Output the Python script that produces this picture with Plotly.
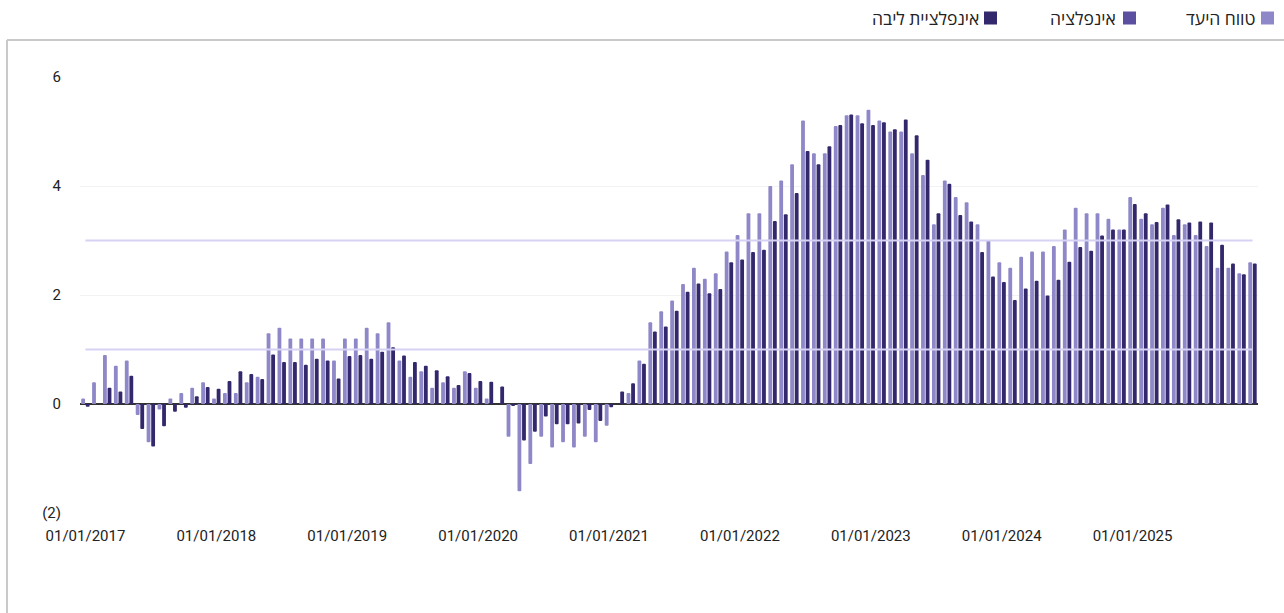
import pandas as pd
import plotly.graph_objects as go

# ---------------- data ----------------
months = pd.date_range("2017-01-01", "2025-12-01", freq="MS").strftime("%d/%m/%Y").tolist()

inflation = [
    0.1, 0.4, 0.9, 0.7, 0.8, -0.2, -0.7, -0.1, 0.1, 0.2, 0.3, 0.4,      # 2017
    0.1, 0.2, 0.2, 0.4, 0.5, 1.3, 1.4, 1.2, 1.2, 1.2, 1.2, 0.8,         # 2018
    1.2, 1.2, 1.4, 1.3, 1.5, 0.8, 0.5, 0.6, 0.3, 0.4, 0.3, 0.6,         # 2019
    0.3, 0.1, 0.0, -0.6, -1.6, -1.1, -0.6, -0.8, -0.7, -0.8, -0.6, -0.7,  # 2020
    -0.4, 0.0, 0.2, 0.8, 1.5, 1.7, 1.9, 2.2, 2.5, 2.3, 2.4, 2.8,        # 2021
    3.1, 3.5, 3.5, 4.0, 4.1, 4.4, 5.2, 4.6, 4.6, 5.1, 5.3, 5.3,         # 2022
    5.4, 5.2, 5.0, 5.0, 4.6, 4.2, 3.3, 4.1, 3.8, 3.7, 3.3, 3.0,         # 2023
    2.6, 2.5, 2.7, 2.8, 2.8, 2.9, 3.2, 3.6, 3.5, 3.5, 3.4, 3.2,         # 2024
    3.8, 3.4, 3.3, 3.6, 3.1, 3.3, 3.1, 2.9, 2.5, 2.5, 2.4, 2.6,         # 2025
]

core_inflation = [
    -0.05, 0.0, 0.3, 0.23, 0.52, -0.46, -0.78, -0.41, -0.14, -0.07, 0.14, 0.31,   # 2017
    0.28, 0.42, 0.6, 0.55, 0.46, 0.91, 0.77, 0.77, 0.72, 0.83, 0.8, 0.47,         # 2018
    0.88, 0.9, 0.83, 0.96, 1.04, 0.89, 0.77, 0.7, 0.62, 0.51, 0.35, 0.57,         # 2019
    0.42, 0.41, 0.32, -0.02, -0.67, -0.51, -0.23, -0.37, -0.37, -0.36, -0.11, -0.31,  # 2020
    -0.06, 0.23, 0.38, 0.74, 1.33, 1.42, 1.71, 2.06, 2.21, 2.03, 2.11, 2.6,       # 2021
    2.65, 2.79, 2.83, 3.36, 3.48, 3.87, 4.64, 4.4, 4.73, 5.12, 5.31, 5.15,        # 2022
    5.12, 5.17, 5.04, 5.22, 4.93, 4.48, 3.5, 4.04, 3.47, 3.35, 2.79, 2.34,        # 2023
    2.24, 1.91, 2.12, 2.26, 1.99, 2.28, 2.61, 2.88, 2.81, 3.09, 3.2, 3.2,         # 2024
    3.67, 3.5, 3.34, 3.66, 3.39, 3.33, 3.35, 3.33, 2.92, 2.58, 2.38, 2.58,        # 2025
]

target_low = 1
target_high = 3

y_tick_values = [-2, 0, 2, 4, 6]
y_tick_labels = ["(2)", "0", "2", "4", "6"]
x_tick_labels = [m for m in months if m.startswith("01/01")]

legend_names = ["טווח היעד", "אינפלציה", "אינפלציית ליבה"]

# ---------------- styles ----------------
C_LIGHT = "#8f88c8"
C_MED = "#5b4f9f"
C_DARK = "#33286b"
C_TARGET = "#d6d2f3"
FONT = "Roboto, 'Open Sans', 'Liberation Sans', sans-serif"

W, H = 1284, 613
ML, MR, MT, MB = 80, 26, 77, 100
PW, PH = W - ML - MR, H - MT - MB


def px_x(p):
    return (p - ML) / PW


def px_y(p):
    return (H - MB - p) / PH


fig = go.Figure()
fig.add_trace(go.Bar(
    x=months, y=inflation, name=legend_names[1],
    marker=dict(color=C_LIGHT, line=dict(width=0), cornerradius=2),
    offset=-0.39, width=0.35, showlegend=False,
))
fig.add_trace(go.Bar(
    x=months, y=core_inflation, name=legend_names[2],
    marker=dict(color=C_DARK, line=dict(width=0), cornerradius=2),
    offset=0.03, width=0.35, showlegend=False,
))

shapes = []
for t in (target_low, target_high):
    shapes.append(dict(type="line", xref="x", yref="y", x0=months[0], x1=months[-1],
                       y0=t, y1=t, line=dict(color=C_TARGET, width=2), layer="above"))

# card border (top + left)
shapes.append(dict(type="line", xref="paper", yref="paper", x0=px_x(7), x1=px_x(1290),
                   y0=px_y(40), y1=px_y(40), line=dict(color="#c9c9c9", width=2)))
shapes.append(dict(type="line", xref="paper", yref="paper", x0=px_x(7), x1=px_x(7),
                   y0=px_y(40), y1=px_y(620), line=dict(color="#c9c9c9", width=2)))

# manual RTL legend
legend_items = [
    (legend_names[0], C_LIGHT, 1261, 1258),
    (legend_names[1], C_MED, 1123, 1118),
    (legend_names[2], C_DARK, 984, 981),
]
annotations = []
for name, col, sq_left, txt_right in legend_items:
    shapes.append(dict(type="rect", xref="paper", yref="paper",
                       x0=px_x(sq_left), x1=px_x(sq_left + 13),
                       y0=px_y(11.5), y1=px_y(24.5),
                       line=dict(width=0), fillcolor=col))
    annotations.append(dict(xref="paper", yref="paper", x=px_x(txt_right), y=px_y(18.5),
                            xanchor="right", yanchor="middle", text=name, showarrow=False,
                            font=dict(family=FONT, size=17.5, color="#222")))

fig.update_layout(
    width=W, height=H,
    margin=dict(l=ML, r=MR, t=MT, b=MB, pad=0),
    paper_bgcolor="white", plot_bgcolor="white",
    barmode="overlay",
    showlegend=False,
    font=dict(family=FONT, size=15, color="#222"),
    shapes=shapes,
    annotations=annotations,
    xaxis=dict(type="category", range=[-0.5, len(months) - 0.5],
               tickmode="array", tickvals=x_tick_labels, ticktext=x_tick_labels,
               showgrid=False, zeroline=False, showline=False, ticks="",
               tickangle=0, ticklabelstandoff=12, tickfont=dict(size=15, color="#222")),
    yaxis=dict(range=[-2, 6], tickmode="array", tickvals=y_tick_values, ticktext=y_tick_labels,
               showgrid=True, gridcolor="#f2f2f2", gridwidth=1,
               zeroline=True, zerolinecolor="#333333", zerolinewidth=1.5,
               showline=False, ticks="", ticklabelstandoff=18,
               tickfont=dict(size=15, color="#222")),
)

fig.write_html("out.html", config={"displayModeBar": False})

with open("out.html", "r", encoding="utf-8") as f:
    html = f.read()
html = html.replace("<head>", "<head><style>html,body{margin:0;padding:0;overflow:hidden;}</style>", 1)
with open("out.html", "w", encoding="utf-8") as f:
    f.write(html)
